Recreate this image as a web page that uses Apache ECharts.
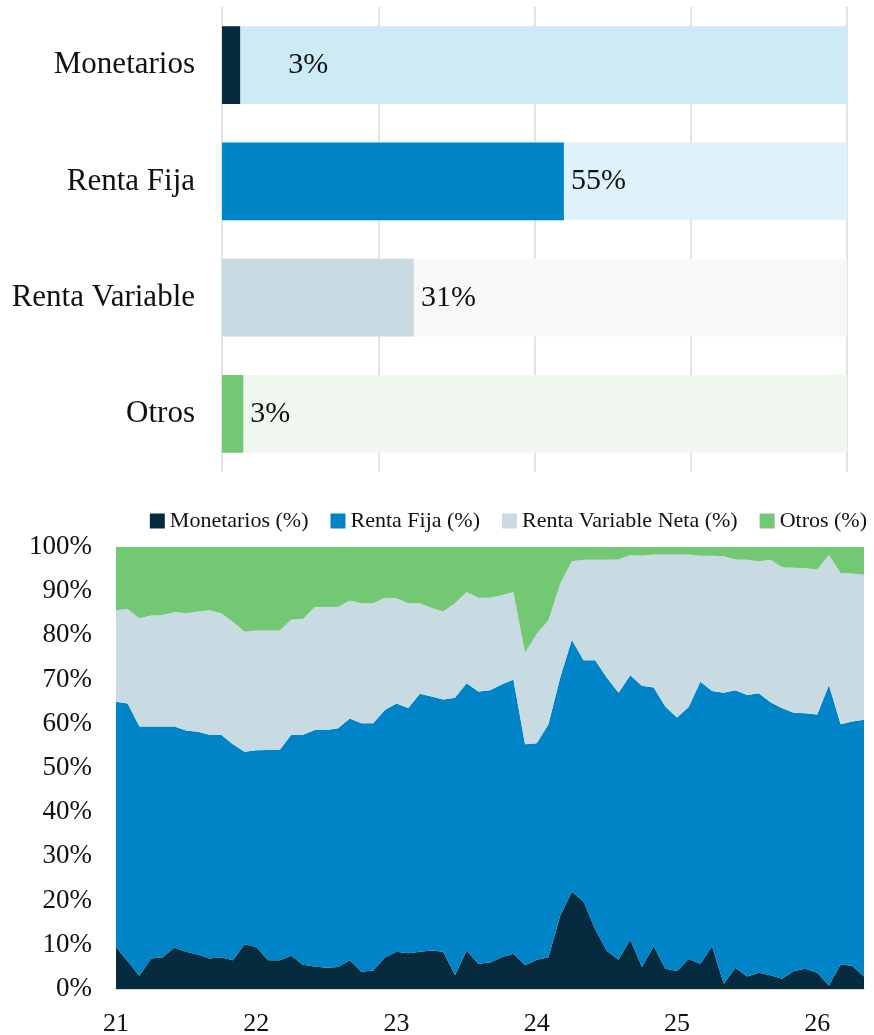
<!DOCTYPE html>
<html>
<head>
<meta charset="utf-8" />
<title>Distribución</title>
<script src="https://cdn.jsdelivr.net/npm/echarts@6/dist/echarts.min.js"></script>
<style>
  html, body { margin: 0; padding: 0; background: #fff; }
  #main { width: 874px; height: 1035px; }
</style>
</head>
<body>
<div id="main"></div>
<script>
// --- datos: distribución actual (barras) ---
var catBarras = ['Monetarios', 'Renta Fija', 'Renta Variable', 'Otros'];
var valBarras = [2.9, 54.7, 30.7, 3.4];
var fondoBarras = [100, 100, 100, 100];

// --- datos: evolución mensual (áreas apiladas), ene-21 a may-26 ---
var anioInicio = 2021;
var numMeses = 65;
var etiquetasAnio = ['21', '22', '23', '24', '25', '26'];
var monetarios = [9.5, 6.3, 3.0, 6.9, 7.2, 9.4, 8.4, 7.8, 6.9, 7.2, 6.5, 10.1, 9.5, 6.5, 6.5, 7.5,
  5.5, 5.1, 4.8, 5.0, 6.5, 3.9, 4.2, 7.1, 8.4, 8.1, 8.4, 8.7, 8.4, 3.1, 8.7, 5.7,
  6.0, 7.2, 8.0, 5.4, 6.6, 7.2, 16.5, 22.0, 19.8, 13.5, 8.6, 6.6, 11.2, 5.0, 9.7, 4.6,
  4.1, 6.8, 5.7, 9.7, 1.2, 4.8, 2.8, 3.7, 3.1, 2.3, 4.1, 4.6, 3.7, 0.8, 5.6, 5.2, 2.8];
var rentaFija = [55.5, 58.3, 56.4, 52.5, 52.2, 50.0, 50.1, 50.4, 50.6, 50.3, 48.9, 43.6, 44.5, 47.6, 47.6, 50.0,
  52.0, 53.5, 53.8, 54.0, 54.7, 56.2, 55.9, 56.0, 56.2, 55.5, 58.4, 57.5, 57.1, 62.8, 60.5, 61.6,
  61.6, 61.7, 62.0, 50.0, 49.0, 52.7, 53.9, 57.0, 54.6, 60.9, 61.8, 60.4, 59.8, 63.6, 58.5, 59.3,
  57.3, 57.0, 63.8, 57.7, 65.8, 62.8, 63.7, 63.2, 61.8, 61.2, 58.4, 57.8, 58.4, 68.0, 54.3, 55.3, 58.1];
var rentaVariable = [20.7, 21.4, 24.5, 25.1, 25.2, 25.9, 26.5, 27.2, 28.2, 27.5, 27.7, 27.1, 27.1, 27.0, 27.0, 26.1,
  26.2, 27.8, 27.8, 27.4, 26.7, 27.2, 27.2, 25.4, 23.8, 23.7, 20.5, 20.0, 19.9, 21.4, 20.6, 21.2,
  20.9, 20.2, 19.8, 20.6, 24.8, 23.5, 21.3, 17.8, 22.7, 22.7, 26.7, 30.2, 27.2, 29.4, 30.1, 34.4,
  36.9, 34.5, 28.5, 30.6, 30.9, 29.6, 30.6, 29.9, 32.2, 31.9, 32.8, 32.8, 32.8, 29.4, 34.2, 33.5, 32.8];
var otros = [14.3, 14.0, 16.1, 15.5, 15.4, 14.7, 15.0, 14.6, 14.3, 15.0, 16.9, 19.2, 18.9, 18.9, 18.9, 16.4,
  16.3, 13.6, 13.6, 13.6, 12.1, 12.7, 12.7, 11.5, 11.6, 12.7, 12.7, 13.8, 14.6, 12.7, 10.2, 11.5,
  11.5, 10.9, 10.2, 24.0, 19.6, 16.6, 8.3, 3.2, 2.9, 2.9, 2.9, 2.8, 1.8, 2.0, 1.7, 1.7,
  1.7, 1.7, 2.0, 2.0, 2.1, 2.8, 2.9, 3.2, 2.9, 4.6, 4.7, 4.8, 5.1, 1.8, 5.9, 6.0, 6.3];

var colores = ['#062b3e', '#0084c8', '#c8dbe2', '#73c873'];
var coloresFondo = ['#cdeaf7', '#dff2fc', '#f8f8f8', '#f0f7ef'];
var fuente = 'Liberation Serif';

// meses como categorías del eje
var meses = [];
for (var i = 0; i < numMeses; i++) {
  var a = anioInicio + Math.floor(i / 12);
  var m = (i % 12) + 1;
  meses.push(a + '-' + (m < 10 ? '0' + m : m));
}

var chart = echarts.init(document.getElementById('main'));

function area(nombre, datos, color) {
  return {
    name: nombre,
    type: 'line',
    stack: 'total',
    xAxisIndex: 1,
    yAxisIndex: 1,
    symbol: 'none',
    lineStyle: { width: 0 },
    areaStyle: { color: color, opacity: 1 },
    itemStyle: { color: color },
    data: datos
  };
}

chart.setOption({
  animation: false,
  textStyle: { fontFamily: fuente, color: '#111' },
  grid: [
    { left: 222, width: 625, top: 7, height: 465, outerBoundsMode: 'none' },
    { left: 116, right: 10, top: 547, bottom: 46, outerBoundsMode: 'none' }
  ],
  legend: {
    top: 505,
    right: 2,
    itemWidth: 15,
    itemHeight: 15,
    itemGap: 22,
    icon: 'rect',
    textStyle: { fontFamily: fuente, fontSize: 22, color: '#111' },
    data: ['Monetarios (%)', 'Renta Fija (%)', 'Renta Variable Neta (%)', 'Otros (%)']
  },
  xAxis: [
    {
      gridIndex: 0, type: 'value', min: 0, max: 100, interval: 25,
      axisLabel: { show: false }, axisLine: { show: false }, axisTick: { show: false },
      splitLine: { lineStyle: { color: '#d9d9d9', width: 1.5 } }
    },
    {
      gridIndex: 1, type: 'category', boundaryGap: false, data: meses,
      axisLine: { lineStyle: { color: '#d9d9d9', width: 2 } },
      axisTick: { show: false },
      axisLabel: {
        interval: 11, margin: 22, fontSize: 26, color: '#111', fontFamily: fuente,
        formatter: function (v, idx) { return etiquetasAnio[Math.floor(idx / 12)]; }
      }
    }
  ],
  yAxis: [
    {
      gridIndex: 0, type: 'category', inverse: true, data: catBarras,
      axisLine: { show: false }, axisTick: { show: false },
      axisLabel: { fontSize: 31, color: '#111', margin: 27, fontFamily: fuente }
    },
    {
      gridIndex: 1, type: 'value', min: 0, max: 100, interval: 10,
      axisLine: { show: false }, axisTick: { show: false },
      axisLabel: { fontSize: 27, color: '#111', margin: 24, fontFamily: fuente, formatter: '{value}%' },
      splitLine: { lineStyle: { color: '#d9d9d9' } }
    }
  ],
  series: [
    {
      type: 'bar', xAxisIndex: 0, yAxisIndex: 0, barWidth: '67%', silent: true,
      data: fondoBarras.map(function (v, i) { return { value: v, itemStyle: { color: coloresFondo[i] } }; })
    },
    {
      type: 'bar', xAxisIndex: 0, yAxisIndex: 0, barWidth: '67%', barGap: '-100%',
      data: valBarras.map(function (v, i) {
        return {
          value: v,
          itemStyle: { color: colores[i] },
          label: { distance: i === 0 ? 48 : 7 }
        };
      }),
      label: {
        show: true, position: 'right', fontSize: 30, color: '#111', fontFamily: fuente,
        formatter: function (p) { return Math.round(p.value) + '%'; }
      }
    },
    area('Monetarios (%)', monetarios, colores[0]),
    area('Renta Fija (%)', rentaFija, colores[1]),
    area('Renta Variable Neta (%)', rentaVariable, colores[2]),
    area('Otros (%)', otros, colores[3])
  ]
});

window.onresize = function () { chart.resize(); };
</script>
</body>
</html>
